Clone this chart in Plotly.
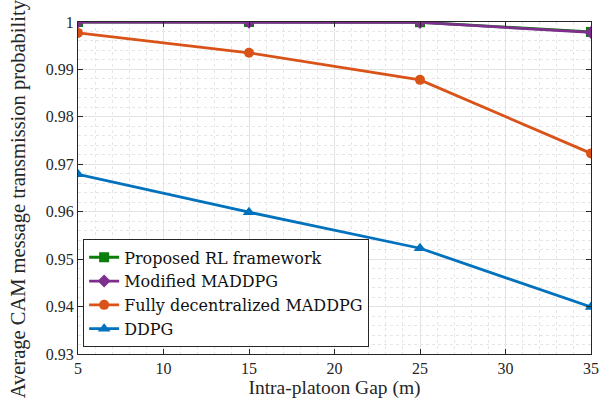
import plotly.graph_objects as go

gap = [5, 15, 25, 35]
proposed = [1.0, 1.0, 0.99995, 0.9979]
modified = [1.0, 0.99995, 0.9999, 0.9978]
fully_dec = [0.9977, 0.9935, 0.9878, 0.9723]
ddpg = [0.9679, 0.9599, 0.9523, 0.9399]

series = [
    ("Proposed RL framework", proposed, "#0A7D0A", "square", 10),
    ("Modified MADDPG", modified, "#7E2F8E", "diamond", 10),
    ("Fully decentralized MADDPG", fully_dec, "#D95319", "circle", 10),
    ("DDPG", ddpg, "#0072BD", "triangle-up", 11),
]

fig = go.Figure()
for name, vals, col, sym, sz in series:
    fig.add_trace(go.Scatter(
        x=gap, y=vals, name=name, mode="lines+markers",
        line=dict(color=col, width=2.8),
        marker=dict(symbol=sym, size=sz, color=col),
    ))

font = "Liberation Serif, Times New Roman, serif"
axis_common = dict(
    showline=True, linecolor="#262626", linewidth=1, mirror="ticks",
    ticks="inside", ticklen=5, tickcolor="#262626",
    showgrid=True, gridcolor="#E3E3E3", gridwidth=1,
    zeroline=False,
    tickfont=dict(family=font, size=16, color="#262626"),
)
fig.update_xaxes(
    range=[5, 35], tickvals=[5, 10, 15, 20, 25, 30, 35],
    minor=dict(dtick=1, showgrid=True, gridcolor="#E6E6E6", griddash="dot", ticks=""),
    title=dict(text="Intra-platoon Gap (m)", font=dict(family=font, size=19.5, color="#262626"), standoff=2),
    **axis_common,
)
fig.update_yaxes(
    range=[0.93, 1.0], tickvals=[0.93, 0.94, 0.95, 0.96, 0.97, 0.98, 0.99, 1.0],
    ticktext=["0.93", "0.94", "0.95", "0.96", "0.97", "0.98", "0.99", "1"],
    minor=dict(dtick=0.002, showgrid=True, gridcolor="#E6E6E6", griddash="dot", ticks=""),
    **axis_common,
)
fig.add_annotation(
    text="Average CAM message transmission probability",
    xref="paper", yref="paper", x=-0.1154, y=0.4685,
    xanchor="center", yanchor="middle", textangle=-90, showarrow=False,
    font=dict(family=font, size=20.5, color="#262626"),
)
fig.update_layout(
    width=611, height=405,
    margin=dict(l=78, r=13, t=22, b=50),
    plot_bgcolor="white", paper_bgcolor="white",
    font=dict(family=font, size=16, color="#262626"),
    legend=dict(
        x=0.01, y=0.02, xanchor="left", yanchor="bottom",
        bgcolor="white", bordercolor="#262626", borderwidth=1,
        font=dict(family="DejaVu Serif, serif", size=16, color="#111111"),
        tracegroupgap=0, itemwidth=30,
    ),
)
fig.write_html("out.html")
